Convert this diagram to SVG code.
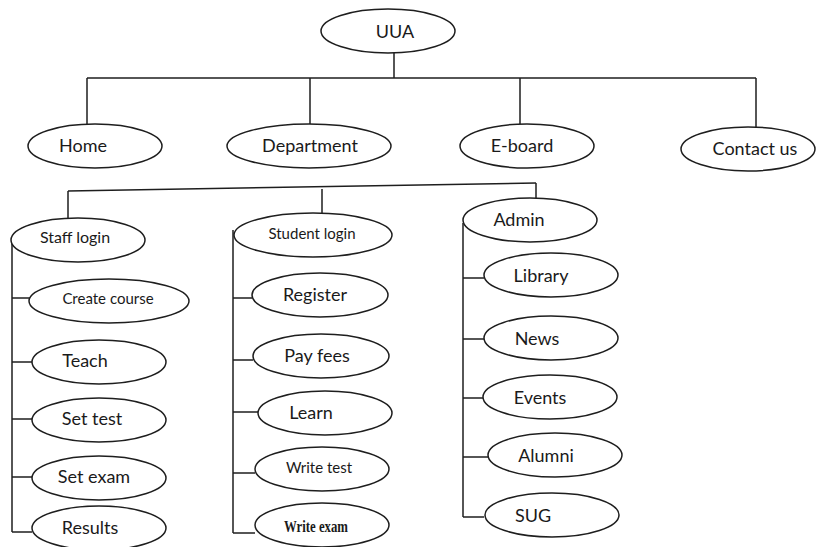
<svg xmlns="http://www.w3.org/2000/svg" width="816" height="547" viewBox="0 0 816 547">
  <style>
    .bg { fill: #ffffff; }
    .node ellipse { fill: #ffffff; stroke: #1e1e1e; stroke-width: 1.5; }
    .node text { font-family: Lato, "Open Sans", "Liberation Sans", sans-serif; fill: #1a1a1a; text-anchor: middle; }
    .lg text { font-size: 18px; }
    .sm text { font-size: 15px; }
    .md text { font-size: 16px; }
    .serif text { font-family: "Liberation Serif", "DejaVu Serif", serif; font-weight: bold; font-size: 17px; }
    #connectors line { stroke: #1e1e1e; stroke-width: 1.5; fill: none; }
  </style>
  <rect class="bg" x="0" y="0" width="816" height="547"/>

  <g id="connectors">
    <!-- root to top menu -->
    <line x1="394" y1="53" x2="394" y2="78"/>
    <line x1="87" y1="78" x2="756" y2="78"/>
    <line x1="87" y1="78" x2="87" y2="124"/>
    <line x1="310" y1="78" x2="310" y2="124"/>
    <line x1="520" y1="78" x2="520" y2="124"/>
    <line x1="756" y1="78" x2="756" y2="127"/>
    <!-- login bar -->
    <line x1="68" y1="191" x2="536" y2="183"/>
    <line x1="68" y1="191" x2="68" y2="218"/>
    <line x1="322" y1="189" x2="322" y2="213"/>
    <line x1="536" y1="183" x2="536" y2="198"/>
    <!-- staff branch -->
    <line x1="12" y1="240" x2="12" y2="532"/>
    <line x1="12" y1="298" x2="30" y2="298"/>
    <line x1="12" y1="362" x2="32" y2="362"/>
    <line x1="12" y1="419" x2="32" y2="419"/>
    <line x1="12" y1="477" x2="32" y2="477"/>
    <line x1="12" y1="532" x2="32" y2="532"/>
    <!-- student branch -->
    <line x1="233" y1="230" x2="233" y2="533"/>
    <line x1="233" y1="298" x2="252" y2="298"/>
    <line x1="233" y1="360" x2="253" y2="360"/>
    <line x1="233" y1="412" x2="258" y2="412"/>
    <line x1="233" y1="473" x2="255" y2="473"/>
    <line x1="233" y1="533" x2="255" y2="533"/>
    <!-- admin branch -->
    <line x1="463" y1="223" x2="463" y2="517"/>
    <line x1="463" y1="278" x2="484" y2="278"/>
    <line x1="463" y1="339" x2="484" y2="339"/>
    <line x1="463" y1="398" x2="483" y2="398"/>
    <line x1="463" y1="457" x2="488" y2="457"/>
    <line x1="463" y1="517" x2="484" y2="517"/>
  </g>

  <g id="uua" class="node lg"><ellipse cx="388" cy="31" rx="67" ry="22"/><text x="395" y="38">UUA</text></g>

  <g id="home" class="node lg"><ellipse cx="95" cy="146" rx="67" ry="22"/><text x="83" y="152">Home</text></g>
  <g id="department" class="node lg"><ellipse cx="309" cy="146" rx="82" ry="22"/><text x="310" y="152">Department</text></g>
  <g id="eboard" class="node lg"><ellipse cx="527" cy="146" rx="67" ry="22"/><text x="522" y="152">E-board</text></g>
  <g id="contact" class="node lg"><ellipse cx="748" cy="149" rx="67" ry="22"/><text x="755" y="155">Contact us</text></g>

  <g id="staff-login" class="node md"><ellipse cx="78" cy="240" rx="67" ry="22"/><text x="75" y="243">Staff login</text></g>
  <g id="create-course" class="node sm"><ellipse cx="109" cy="301" rx="80" ry="22"/><text x="108" y="304">Create course</text></g>
  <g id="teach" class="node lg"><ellipse cx="99" cy="362" rx="67" ry="22"/><text x="85" y="367">Teach</text></g>
  <g id="set-test" class="node lg"><ellipse cx="99" cy="420" rx="67" ry="22"/><text x="92" y="425">Set test</text></g>
  <g id="set-exam" class="node lg"><ellipse cx="99" cy="478" rx="67" ry="22"/><text x="94" y="483">Set exam</text></g>
  <g id="results" class="node lg"><ellipse cx="99" cy="528" rx="67" ry="22"/><text x="90" y="534">Results</text></g>

  <g id="student-login" class="node sm"><ellipse cx="313" cy="235" rx="79" ry="22"/><text x="312" y="239">Student login</text></g>
  <g id="register" class="node lg"><ellipse cx="320" cy="295" rx="68" ry="22"/><text x="315" y="301">Register</text></g>
  <g id="pay-fees" class="node lg"><ellipse cx="321" cy="356" rx="68" ry="22"/><text x="317" y="362">Pay fees</text></g>
  <g id="learn" class="node lg"><ellipse cx="325" cy="413" rx="67" ry="22"/><text x="311" y="419">Learn</text></g>
  <g id="write-test" class="node sm"><ellipse cx="322" cy="469" rx="67" ry="22"/><text x="319" y="473">Write test</text></g>
  <g id="write-exam" class="node serif"><ellipse cx="322" cy="525" rx="67" ry="22"/><text x="316" y="532" textLength="64" lengthAdjust="spacingAndGlyphs">Write exam</text></g>

  <g id="admin" class="node lg"><ellipse cx="530" cy="220" rx="67" ry="22"/><text x="519" y="226">Admin</text></g>
  <g id="library" class="node lg"><ellipse cx="551" cy="275" rx="67" ry="22"/><text x="541" y="282">Library</text></g>
  <g id="news" class="node lg"><ellipse cx="551" cy="338" rx="67" ry="22"/><text x="537" y="345">News</text></g>
  <g id="events" class="node lg"><ellipse cx="550" cy="397" rx="67" ry="22"/><text x="540" y="404">Events</text></g>
  <g id="alumni" class="node lg"><ellipse cx="555" cy="455" rx="67" ry="22"/><text x="546" y="462">Alumni</text></g>
  <g id="sug" class="node lg"><ellipse cx="552" cy="515" rx="67" ry="22"/><text x="533" y="522">SUG</text></g>
</svg>
